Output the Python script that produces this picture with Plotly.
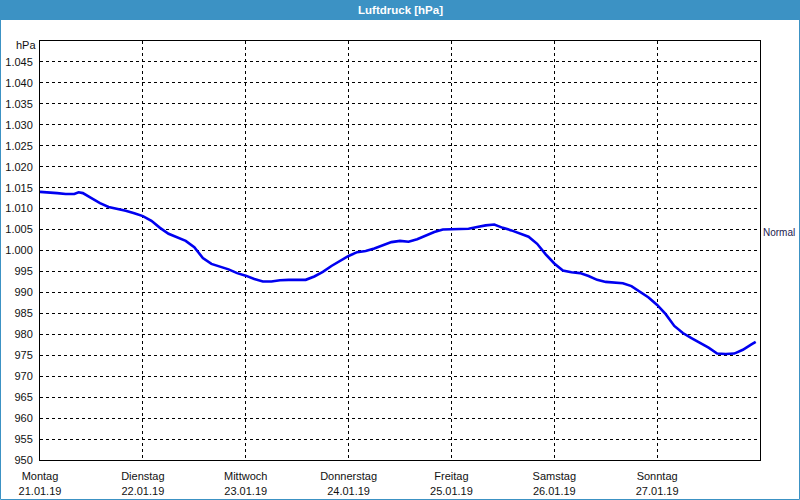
import plotly.graph_objects as go
import pandas as pd

# Data: hours after 21.01.2019 00:00 and air pressure in hPa
hours = [0, 2, 4, 6, 8, 9, 10, 12, 14, 16, 18, 20, 22, 24, 26, 28, 30, 32, 34, 36,
         38, 40, 42, 44, 46, 48, 50, 52, 54, 56, 58, 60, 62, 64, 66, 68, 70, 72, 74,
         76, 78, 80, 82, 84, 86, 88, 90, 92, 94, 96, 98, 100, 102, 104, 106, 108,
         110, 112, 114, 116, 118, 120, 122, 124, 126, 128, 130, 132, 134, 136, 138,
         140, 142, 144, 146, 148, 150, 152, 154, 156, 158, 160, 162, 164, 166, 167]
pressure = [1014.0, 1013.9, 1013.7, 1013.5, 1013.5, 1013.9, 1013.7, 1012.5, 1011.3,
            1010.4, 1010.0, 1009.5, 1008.9, 1008.2, 1007.1, 1005.4, 1004.0, 1003.2,
            1002.3, 1000.8, 998.2, 996.8, 996.1, 995.5, 994.6, 994.0, 993.2, 992.6,
            992.6, 992.9, 993.0, 993.0, 993.0, 993.8, 994.9, 996.3, 997.6, 998.7,
            999.6, 999.9, 1000.5, 1001.3, 1002.0, 1002.3, 1002.1, 1002.7, 1003.6,
            1004.4, 1005.0, 1005.1, 1005.1, 1005.2, 1005.6, 1006.0, 1006.2, 1005.4,
            1004.8, 1004.0, 1003.3, 1001.6, 999.1, 996.9, 995.2, 994.8, 994.6, 993.9,
            993.0, 992.5, 992.3, 992.2, 991.5, 990.2, 988.8, 987.0, 984.8, 982.0,
            980.3, 979.1, 978.0, 976.8, 975.4, 975.3, 975.4, 976.3, 977.6, 978.2]

day_names = ["Montag", "Dienstag", "Mittwoch", "Donnerstag", "Freitag", "Samstag", "Sonntag"]
day_dates = ["21.01.19", "22.01.19", "23.01.19", "24.01.19", "25.01.19", "26.01.19", "27.01.19"]
y_ticks = list(range(950, 1050, 5))

start = pd.Timestamp("2019-01-21 00:00")
times = [start + pd.Timedelta(hours=h) for h in hours]
day_vals = [start + pd.Timedelta(days=i) for i in range(len(day_names))]

def fmt(v):
    s = f"{v:,d}"
    return s.replace(",", ".")

W, H = 800, 500
ML, MR, MT, MB = 40, 40, 41, 40
pw, ph = W - ML - MR, H - MT - MB
BLUE = "#3c92c4"
FONT = "Liberation Sans"

fig = go.Figure()
fig.add_trace(go.Scatter(x=times, y=pressure, mode="lines",
                         line=dict(color="#0000f0", width=2.6), hoverinfo="skip"))

fig.update_layout(
    width=W, height=H,
    margin=dict(l=ML, r=MR, t=MT, b=MB, autoexpand=False),
    paper_bgcolor="white", plot_bgcolor="white",
    showlegend=False,
    font=dict(family=FONT, size=11, color="#000000"),
    xaxis=dict(
        range=[start, start + pd.Timedelta(days=7)],
        tickvals=day_vals,
        ticktext=[f"{n}<br>{d}" for n, d in zip(day_names, day_dates)],
        showgrid=True, gridcolor="black", gridwidth=1, griddash="3px,3px",
        showline=True, linecolor="black", linewidth=1, mirror=True,
        zeroline=False, ticks="", ticklabelstandoff=6, automargin=False,
        tickfont=dict(family=FONT, size=11, color="#111"),
    ),
    yaxis=dict(
        range=[950, 1050],
        tickvals=y_ticks,
        ticktext=[fmt(v) for v in y_ticks],
        showgrid=True, gridcolor="black", gridwidth=1, griddash="3px,3px",
        showline=True, linecolor="black", linewidth=1, mirror=True,
        zeroline=False, ticks="", ticklabelstandoff=4, automargin=False,
        tickfont=dict(family=FONT, size=11, color="#111"),
    ),
)

# Title bar
fig.add_shape(type="rect", xref="paper", yref="paper",
              x0=-ML / pw, x1=1 + MR / pw,
              y0=1 + (MT - 20) / ph, y1=1 + MT / ph,
              fillcolor=BLUE, line=dict(width=0), layer="below")
# Outer frame
fig.add_shape(type="rect", xref="paper", yref="paper",
              x0=-(ML - 0.5) / pw, x1=1 + (MR - 0.5) / pw,
              y0=-(MB - 0.5) / ph, y1=1 + (MT - 0.5) / ph,
              line=dict(color=BLUE, width=1), fillcolor="rgba(0,0,0,0)")

fig.add_annotation(xref="paper", yref="paper", x=0.5, y=1 + (MT - 10) / ph,
                   text="<b>Luftdruck [hPa]</b>", showarrow=False,
                   font=dict(family=FONT, size=11.5, color="white"),
                   xanchor="center", yanchor="middle")
fig.add_annotation(xref="paper", yref="y", x=0, y=1050, xshift=-2, yshift=-4,
                   text="hPa", showarrow=False, xanchor="right", yanchor="middle",
                   font=dict(family=FONT, size=11, color="#111"))
fig.add_annotation(xref="paper", yref="y", x=1, y=1004.2, xshift=1,
                   text="Normal", showarrow=False, xanchor="left", yanchor="middle",
                   font=dict(family=FONT, size=10, color="#1a1a50"))

fig.write_html("out.html")
